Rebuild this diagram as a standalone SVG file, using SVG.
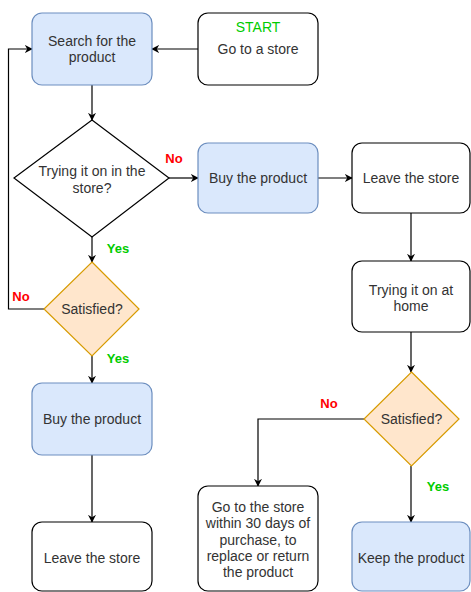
<svg xmlns="http://www.w3.org/2000/svg" width="471" height="592" viewBox="0 0 471 592">
<style>
.box{fill:#ffffff;stroke:#000000;stroke-width:1.2}
.blue{fill:#dae8fc;stroke:#6c8ebf;stroke-width:1.2}
.orange{fill:#ffe6cc;stroke:#d79b00;stroke-width:1.2}
.t{font-family:"Liberation Sans",Arial,sans-serif;font-size:14px;fill:#333333;text-anchor:middle}
.lbl{font-family:"Liberation Sans",Arial,sans-serif;font-size:13px;font-weight:bold;text-anchor:middle}
.no{fill:#ff0000}
.yes{fill:#00cc00}
.edge{fill:none;stroke:#000000;stroke-width:1.2}
</style>
<defs>
<marker id="arr" viewBox="0 0 10 10" refX="9" refY="5" markerWidth="8" markerHeight="8" markerUnits="userSpaceOnUse" orient="auto">
<path d="M0,0 L10,5 L0,10 L3,5 z" fill="#000000"/>
</marker>
</defs>
<g id="connectors">
<path class="edge" d="M198,49 L152,49" marker-end="url(#arr)"/>
<path class="edge" d="M92,85 L92,120" marker-end="url(#arr)"/>
<path class="edge" d="M169,178 L198,178" marker-end="url(#arr)"/>
<path class="edge" d="M318,178 L352,178" marker-end="url(#arr)"/>
<path class="edge" d="M411,213 L411,261" marker-end="url(#arr)"/>
<path class="edge" d="M92,237 L92,262" marker-end="url(#arr)"/>
<path class="edge" d="M44,309 L8.5,309 L8.5,49 L32,49" marker-end="url(#arr)"/>
<path class="edge" d="M92,356 L92,383" marker-end="url(#arr)"/>
<path class="edge" d="M92,455 L92,522" marker-end="url(#arr)"/>
<path class="edge" d="M411,332 L411,372" marker-end="url(#arr)"/>
<path class="edge" d="M364,419 L258,419 L258,486" marker-end="url(#arr)"/>
<path class="edge" d="M411,466 L411,522" marker-end="url(#arr)"/>
<text class="lbl no" x="174" y="163">No</text>
<text class="lbl yes" x="118" y="253">Yes</text>
<text class="lbl no" x="21" y="301">No</text>
<text class="lbl yes" x="118" y="363">Yes</text>
<text class="lbl no" x="329" y="408">No</text>
<text class="lbl yes" x="438" y="491">Yes</text>
</g>
<g id="start">
<rect class="box" x="198" y="13" width="120" height="72" rx="10"/>
<text class="t" x="258" y="32" style="fill:#00cc00">START</text>
<text class="t" x="258" y="54">Go to a store</text>
</g>
<g id="search">
<rect class="blue" x="32" y="13" width="120" height="72" rx="10"/>
<text class="t" x="92" y="46">Search for the</text>
<text class="t" x="92" y="62">product</text>
</g>
<g id="try-store">
<path class="box" d="M92,120 L169,178 L92,237 L14,178 Z"/>
<text class="t" x="92" y="176">Trying it on in the</text>
<text class="t" x="92" y="193">store?</text>
</g>
<g id="buy1">
<rect class="blue" x="198" y="143" width="120" height="70" rx="10"/>
<text class="t" x="258" y="183">Buy the product</text>
</g>
<g id="leave1">
<rect class="box" x="352" y="143" width="118" height="70" rx="10"/>
<text class="t" x="411" y="183">Leave the store</text>
</g>
<g id="try-home">
<rect class="box" x="352" y="261" width="118" height="71" rx="10"/>
<text class="t" x="411" y="295">Trying it on at</text>
<text class="t" x="411" y="311">home</text>
</g>
<g id="satisfied1">
<path class="orange" d="M92,262 L139,309 L92,356 L44,309 Z"/>
<text class="t" x="92" y="314">Satisfied?</text>
</g>
<g id="buy2">
<rect class="blue" x="32" y="383" width="120" height="72" rx="10"/>
<text class="t" x="92" y="424">Buy the product</text>
</g>
<g id="leave2">
<rect class="box" x="32" y="522" width="120" height="69" rx="10"/>
<text class="t" x="92" y="563">Leave the store</text>
</g>
<g id="satisfied2">
<path class="orange" d="M411.5,372 L459,419 L411.5,466 L364,419 Z"/>
<text class="t" x="411.5" y="424">Satisfied?</text>
</g>
<g id="return">
<rect class="box" x="198" y="486" width="120" height="105" rx="10"/>
<text class="t" x="258" y="512">Go to the store</text>
<text class="t" x="258" y="528">within 30 days of</text>
<text class="t" x="258" y="545">purchase, to</text>
<text class="t" x="258" y="561">replace or return</text>
<text class="t" x="258" y="577">the product</text>
</g>
<g id="keep">
<rect class="blue" x="352" y="522" width="118" height="69" rx="10"/>
<text class="t" x="411" y="563">Keep the product</text>
</g>
</svg>
